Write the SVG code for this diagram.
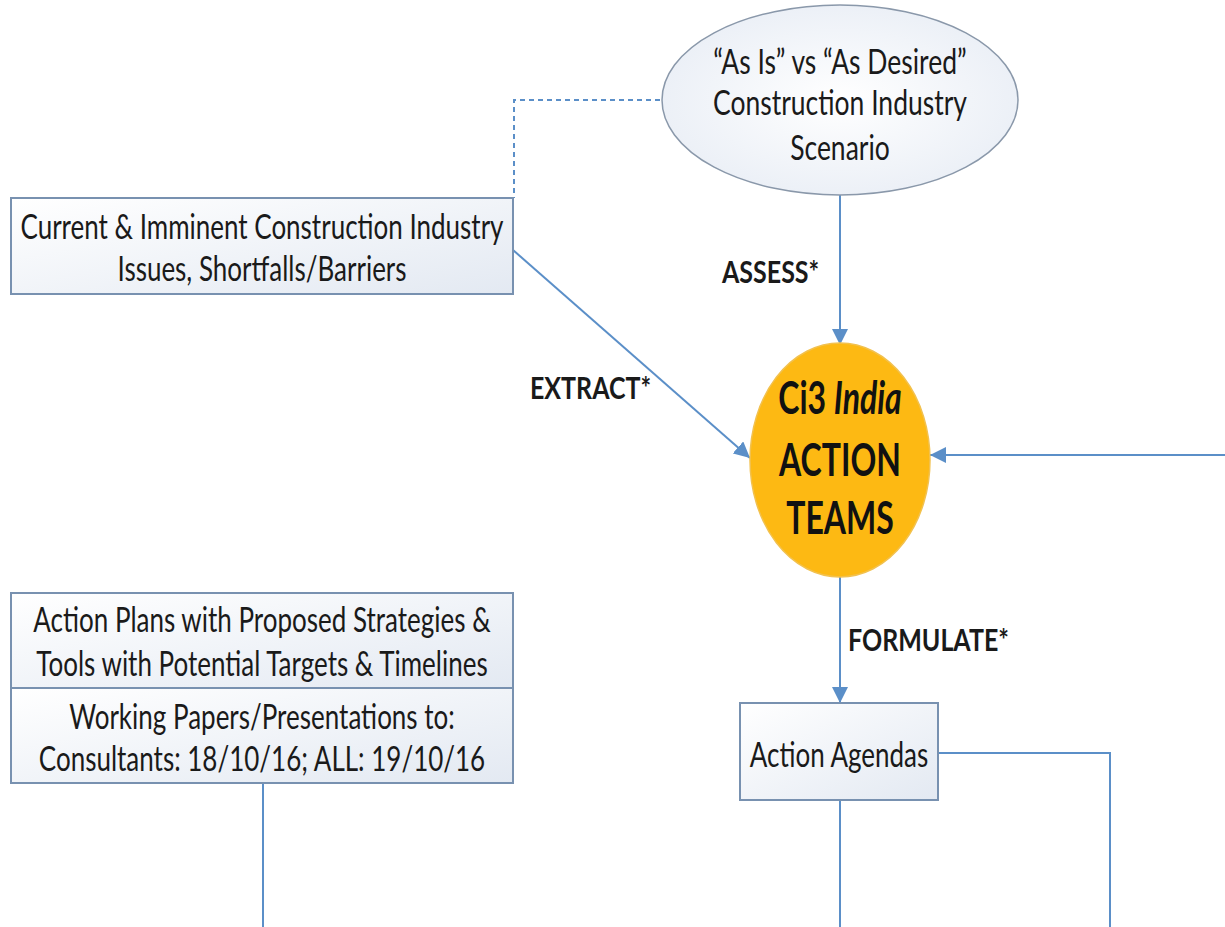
<svg xmlns="http://www.w3.org/2000/svg" width="1225" height="927" viewBox="0 0 1225 927">
<defs>
<linearGradient id="boxg" x1="0" y1="0" x2="1" y2="1">
<stop offset="0" stop-color="#ffffff"/>
<stop offset="1" stop-color="#e3e9f2"/>
</linearGradient>
<radialGradient id="ellg" cx="0.5" cy="0.5" r="0.6">
<stop offset="0" stop-color="#ffffff"/>
<stop offset="1" stop-color="#e8edf5"/>
</radialGradient>
<marker id="arr" viewBox="0 0 10 10" refX="10" refY="5" markerWidth="16" markerHeight="16" markerUnits="userSpaceOnUse" orient="auto">
<path d="M0,0 L10,5 L0,10 z" fill="#5b8fc8"/>
</marker>
</defs>
<style>
.box{fill:url(#boxg);stroke:#7891b0;stroke-width:2}
.t{font-family:Lato,"Open Sans",sans-serif;font-size:26px;fill:#1a1a1a;text-anchor:middle}
.te{font-family:Lato,"Open Sans",sans-serif;font-size:26.5px;fill:#1a1a1a;text-anchor:middle}
.lbl{font-family:Lato,"Open Sans",sans-serif;font-size:25px;font-weight:bold;fill:#1a1a1a}
.big{font-family:Lato,"Open Sans",sans-serif;font-size:32px;font-weight:bold;fill:#111;text-anchor:middle}
.c{fill:none;stroke:#5b8fc8;stroke-width:2}
</style>
<rect width="1225" height="927" fill="#ffffff"/>
<g id="connectors">
<path class="c" d="M660,100 H514 V198" stroke-dasharray="5,4" stroke="#7a9cc4"/>
<path class="c" d="M840,195 V345" marker-end="url(#arr)"/>
<path class="c" d="M513,250 L750,458" marker-end="url(#arr)"/>
<path class="c" d="M1225,455 H930" marker-end="url(#arr)"/>
<path class="c" d="M840,577 V703" marker-end="url(#arr)"/>
<path class="c" d="M938,753 H1110 V927"/>
<path class="c" d="M840,800 V927"/>
<path class="c" d="M263,783 V927"/>
</g>
<g id="labels">
<text class="lbl" transform="matrix(1,0,0,1.25,722,283)">ASSESS*</text>
<text class="lbl" transform="matrix(1,0,0,1.25,530,399)">EXTRACT*</text>
<text class="lbl" transform="matrix(1,0,0,1.25,848,651)">FORMULATE*</text>
</g>
<g id="node-scenario">
<ellipse cx="840" cy="100" rx="178" ry="95" fill="url(#ellg)" stroke="#8a98aa" stroke-width="1.5"/>
<text class="te" transform="matrix(1,0,0,1.3,840,74)">“As Is” vs “As Desired”</text>
<text class="te" transform="matrix(1,0,0,1.3,840,115)">Construction Industry</text>
<text class="te" transform="matrix(1,0,0,1.3,840,160)">Scenario</text>
</g>
<g id="node-issues">
<rect class="box" x="11" y="198" width="502" height="96"/>
<text class="t" transform="matrix(1,0,0,1.3,262,239)">Current &amp; Imminent Construction Industry</text>
<text class="t" transform="matrix(1,0,0,1.3,262,281)">Issues, Shortfalls/Barriers</text>
</g>
<g id="node-teams">
<ellipse cx="840" cy="460" rx="90" ry="117" fill="#fdb913" stroke="#f2c14e" stroke-width="1.5"/>
<text class="big" transform="matrix(1,0,0,1.42,840,414)">Ci3 <tspan font-style="italic">India</tspan></text>
<text class="big" transform="matrix(1,0,0,1.42,840,476)">ACTION</text>
<text class="big" transform="matrix(1,0,0,1.42,840,534)">TEAMS</text>
</g>
<g id="node-plans">
<rect class="box" x="11" y="593" width="502" height="95"/>
<text class="t" transform="matrix(1,0,0,1.3,262,632)">Action Plans with Proposed Strategies &amp;</text>
<text class="t" transform="matrix(1,0,0,1.3,262,676)">Tools with Potential Targets &amp; Timelines</text>
</g>
<g id="node-papers">
<rect class="box" x="11" y="688" width="502" height="95"/>
<text class="t" transform="matrix(1,0,0,1.3,262,729)">Working Papers/Presentations to:</text>
<text class="t" transform="matrix(1,0,0,1.3,262,771)">Consultants: 18/10/16; ALL: 19/10/16</text>
</g>
<g id="node-agendas">
<rect class="box" x="740" y="703" width="198" height="97"/>
<text class="t" transform="matrix(1,0,0,1.3,839,767)">Action Agendas</text>
</g>
</svg>
